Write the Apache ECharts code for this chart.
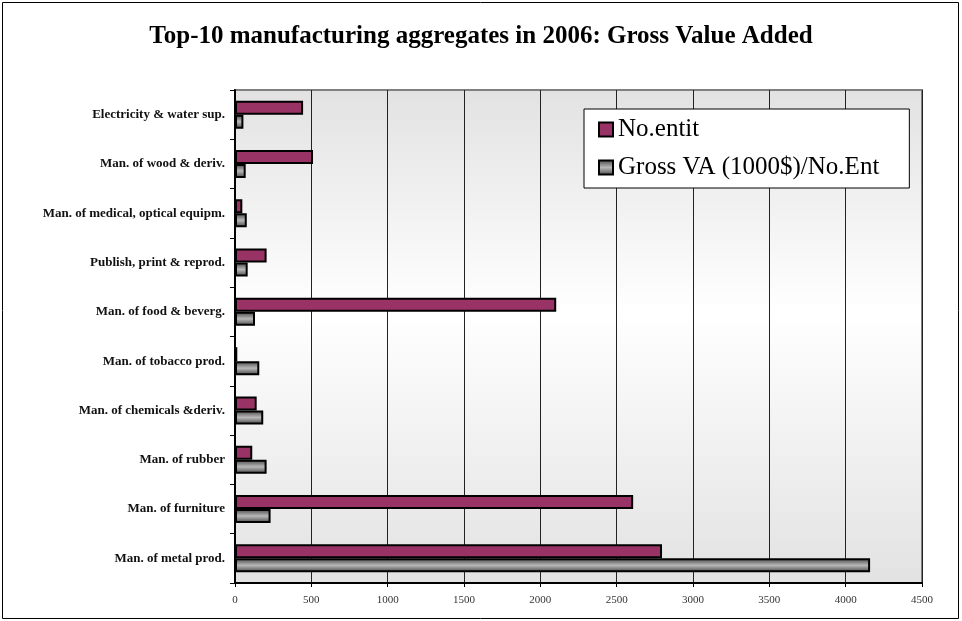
<!DOCTYPE html>
<html>
<head>
<meta charset="utf-8">
<script src="https://cdn.jsdelivr.net/npm/echarts@6/dist/echarts.min.js"></script>
<style>
  html, body { margin: 0; padding: 0; background: #fff; }
  #chart { width: 962px; height: 621px; }
</style>
</head>
<body>
<div id="chart"></div>
<script>
// categories listed bottom -> top, as the y category axis draws them
var categories = [
    'Man. of metal prod.',
    'Man. of furniture',
    'Man. of rubber',
    'Man. of chemicals &deriv.',
    'Man. of tobacco prod.',
    'Man. of food & beverg.',
    'Publish, print & reprod.',
    'Man. of medical, optical equipm.',
    'Man. of wood & deriv.',
    'Electricity & water sup.'
];
var noEntit = [2797, 2608, 113, 142, 15, 2104, 207, 48, 511, 446];
var grossVA = [4160, 233, 207, 185, 159, 131, 83, 77, 70, 55];

var serif = '"Liberation Serif", "DejaVu Serif", serif';

var chart = echarts.init(document.getElementById('chart'));

var grayFill = new echarts.graphic.LinearGradient(0, 0, 0, 1, [
    {offset: 0, color: '#444'},
    {offset: 0.5, color: '#b8b8b8'},
    {offset: 1, color: '#444'}
]);

chart.setOption({
    animation: false,
    title: {
        text: 'Top-10 manufacturing aggregates in 2006: Gross Value Added',
        left: 'center',
        top: 19,
        textStyle: {
            fontFamily: serif,
            fontWeight: 'bold',
            fontSize: 25,
            color: '#000'
        }
    },
    graphic: [{
        type: 'rect',
        shape: {x: 2.5, y: 2.5, width: 956, height: 616},
        style: {fill: 'none', stroke: '#000', lineWidth: 1},
        silent: true,
        z: 100
    }],
    legend: {
        orient: 'vertical',
        left: 584,
        top: 109,
        data: ['No.entit', 'Gross VA (1000$)/No.Ent'],
        backgroundColor: '#fff',
        borderColor: '#000',
        borderWidth: 1,
        padding: [8, 30, 8, 14],
        itemGap: 13,
        itemWidth: 14,
        itemHeight: 14,
        icon: 'rect',
        textStyle: {
            fontFamily: serif,
            fontSize: 25,
            color: '#000'
        }
    },
    grid: {
        left: 235,
        right: 40,
        top: 90,
        bottom: 38,
        show: true,
        borderColor: '#808080',
        borderWidth: 2,
        backgroundColor: new echarts.graphic.LinearGradient(0, 0, 0, 1, [
            {offset: 0, color: '#e2e2e2'},
            {offset: 0.45, color: '#ffffff'},
            {offset: 1, color: '#e2e2e2'}
        ])
    },
    xAxis: {
        type: 'value',
        min: 0,
        max: 4500,
        interval: 500,
        axisLine: {show: true, lineStyle: {color: '#000', width: 2}},
        axisTick: {show: true, length: 4, lineStyle: {color: '#000'}},
        axisLabel: {
            fontFamily: serif,
            fontSize: 11,
            color: '#333',
            margin: 12,
            formatter: function (v) { return String(v); }
        },
        splitLine: {show: true, lineStyle: {color: '#222', width: 1}}
    },
    yAxis: {
        type: 'category',
        data: categories,
        axisLine: {show: true, lineStyle: {color: '#000', width: 2}},
        axisTick: {show: true, length: 5, lineStyle: {color: '#000'}},
        axisLabel: {
            fontFamily: serif,
            fontWeight: 'bold',
            fontSize: 13,
            color: '#111',
            margin: 10
        },
        splitLine: {show: false}
    },
    series: [
        {
            name: 'No.entit',
            type: 'bar',
            data: noEntit,
            barWidth: 14,
            barGap: '0%',
            itemStyle: {
                color: '#993366',
                borderColor: '#000',
                borderWidth: 2
            }
        },
        {
            name: 'Gross VA (1000$)/No.Ent',
            type: 'bar',
            data: grossVA,
            barWidth: 14,
            barGap: '0%',
            itemStyle: {
                color: grayFill,
                borderColor: '#000',
                borderWidth: 2
            }
        }
    ]
});
</script>
</body>
</html>
